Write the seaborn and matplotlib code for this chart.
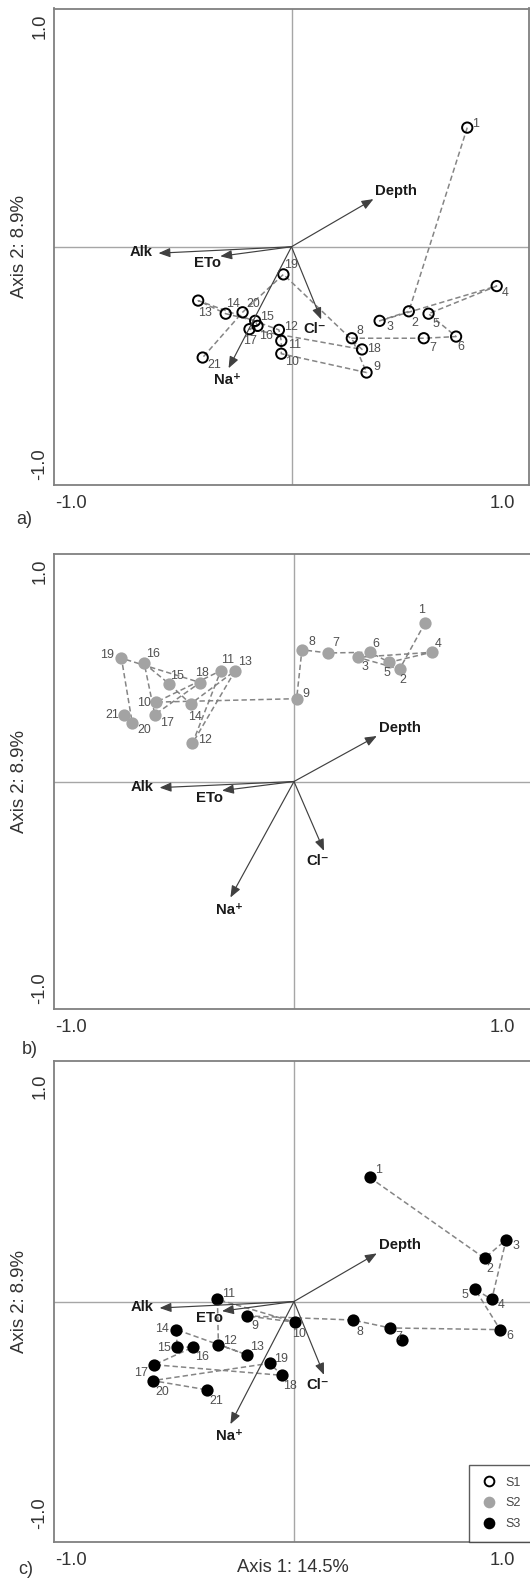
import numpy as np
import pandas as pd
import matplotlib
matplotlib.use('Agg')
import matplotlib.pyplot as plt
import matplotlib.transforms as mtrans
from matplotlib.lines import Line2D
import seaborn as sns

sns.set_style('white')
plt.rcParams['font.family'] = ['Liberation Sans', 'DejaVu Sans']

# ── Data ──────────────────────────────────────────────────────────────────────
samples = [str(i) for i in range(1, 22)]

s1_x = [0.74, 0.494, 0.371, 0.864, 0.577, 0.693, 0.557, 0.254, 0.316, -0.043, -0.043,
        -0.053, -0.393, -0.277, -0.153, -0.143, -0.177, 0.297, -0.034, -0.206, -0.374]
s1_y = [0.50, -0.271, -0.311, -0.165, -0.281, -0.377, -0.384, -0.384, -0.528, -0.449, -0.395,
        -0.349, -0.226, -0.281, -0.311, -0.332, -0.346, -0.431, -0.116, -0.275, -0.465]

s2_x = [0.546, 0.44, 0.265, 0.574, 0.397, 0.316, 0.142, 0.033, 0.011, -0.574, -0.305,
        -0.423, -0.245, -0.431, -0.521, -0.624, -0.580, -0.391, -0.719, -0.674, -0.709]
s2_y = [0.697, 0.494, 0.546, 0.568, 0.524, 0.568, 0.565, 0.579, 0.364, 0.349, 0.487,
        0.168, 0.487, 0.341, 0.430, 0.519, 0.294, 0.435, 0.542, 0.257, 0.294]

s3_x = [0.315, 0.794, 0.884, 0.824, 0.755, 0.859, 0.401, 0.245, -0.197, 0.003, -0.319,
        -0.315, -0.197, -0.490, -0.487, -0.421, -0.582, -0.049, -0.102, -0.589, -0.364]
s3_y = [0.516, 0.18, 0.257, 0.009, 0.05, -0.117, -0.11, -0.077, -0.06, -0.086, 0.009,
        -0.179, -0.221, -0.117, -0.19, -0.19, -0.263, -0.307, -0.257, -0.329, -0.367]
# unlabelled extra S3 point next to sample 7
s3_extra_x = [0.450]
s3_extra_y = [-0.160]

env_names = ['Depth', 'Alk', 'ETo', 'Cl\u207b', 'Na\u207a']
env_x = [0.345, -0.56, -0.30, 0.125, -0.265]
env_y = [0.20, -0.027, -0.04, -0.305, -0.51]

# label offsets in pixels (placement only)
s1_off = [(8, 4), (6, -12), (10, -6), (8, -7), (7, -10), (5, -10), (9, -10), (8, 7), (10, 6),
          (11, -8), (13, -4), (12, 3), (7, -12), (7, 10), (12, 4), (8, -10), (1, -12), (12, 0),
          (8, 9), (11, 8), (12, -7)]
s2_off = [(-3, 13), (3, -11), (7, -10), (6, 8), (-2, -11), (6, 8), (8, 10), (10, 8), (9, 5),
          (-12, -1), (7, 11), (13, 3), (10, 9), (4, -13), (8, 8), (9, 9), (12, -8), (2, 10),
          (-14, 3), (12, -7), (-12, 0)]
s3_off = [(9, 7), (5, -11), (10, -6), (9, -6), (-10, -6), (10, -6), (9, -9), (7, -12), (8, -10),
          (4, -12), (11, 5), (12, 4), (10, 8), (-14, 1), (-13, -1), (9, -10), (-13, -8), (8, -11),
          (12, 4), (10, -11), (10, -11)]
env_off = {'Depth': (2, 8, 'left'), 'Alk': (-6, 1, 'right'), 'ETo': (1, -7, 'right'),
           'Cl\u207b': (-6, -10, 'center'), 'Na\u207a': (-1, -12, 'center')}

W, H = 530, 1580
fig = plt.figure(figsize=(W / 100, H / 100), dpi=100)
fig.patch.set_facecolor('white')

SPINE = '#808080'
LINE = '#858585'
TXT = '#333333'


def add_ax(left, right, top, bottom):
    return fig.add_axes([left / W, 1 - bottom / H, (right - left) / W, (bottom - top) / H])


def shift(artist, dx, dy):
    artist.set_transform(artist.get_transform() +
                         mtrans.ScaledTranslation(dx / 100, dy / 100, fig.dpi_scale_trans))


def draw_panel(ax, box, xs, ys, offs, fc, ec, ylab_off):
    left, right, top, bottom = box
    ax.set_xlim(-1, 1)
    ax.set_ylim(-1, 1)
    ax.axhline(0, color='#a6a6a6', lw=1, zorder=1)
    ax.axvline(0, color='#a6a6a6', lw=1, zorder=1)

    df = pd.DataFrame({'x': xs, 'y': ys, 'lab': samples})
    sns.lineplot(data=df, x='x', y='y', sort=False, estimator=None, ax=ax,
                 color=LINE, lw=1.1, zorder=2)
    ax.lines[-1].set_dashes([3.5, 2])
    sns.scatterplot(data=df, x='x', y='y', ax=ax, s=55, facecolor=fc, edgecolor=ec,
                    linewidth=1.4, zorder=3, legend=False)
    for (x, y, lab), (dx, dy) in zip(zip(xs, ys, samples), offs):
        ax.annotate(lab, (x, y), xytext=(dx, dy), textcoords='offset pixels',
                    ha='center', va='center', fontsize=8.9, color='#505050', zorder=5)

    # environmental vectors
    for name, ex, ey in zip(env_names, env_x, env_y):
        ax.annotate('', xy=(ex, ey), xytext=(0, 0),
                    arrowprops=dict(arrowstyle='-|>,head_length=0.5,head_width=0.2',
                                    color='#404040', lw=0.85, shrinkA=0, shrinkB=0,
                                    mutation_scale=14), zorder=4)
        dx, dy, ha = env_off[name]
        ax.annotate(name, (ex, ey), xytext=(dx, dy), textcoords='offset pixels',
                    ha=ha, va='center', fontsize=10.7, fontweight='bold', color='#1a1a1a',
                    zorder=5)

    for sp in ax.spines.values():
        sp.set_color(SPINE)
        sp.set_linewidth(1.3)
    ax.set_xticks([-1, -0.5, 0, 0.5, 1])
    ax.set_xticklabels(['-1.0', '', '', '', '1.0'])
    ax.set_yticks([-1, -0.5, 0, 0.5, 1])
    ax.set_yticklabels(['-1.0', '', '', '', '1.0'], rotation=90)
    ax.tick_params(axis='both', direction='out', length=3, width=1, color=SPINE,
                   labelsize=13.2, labelcolor=TXT)
    ax.tick_params(axis='x', pad=4)
    ax.tick_params(axis='y', pad=1)
    xl = ax.get_xticklabels()
    xl[0].set_ha('left')
    shift(xl[0], 1, 0)
    xl[-1].set_ha('right')
    shift(xl[-1], 515 - right, 0)
    yl = ax.get_yticklabels()
    yl[0].set_va('bottom')
    shift(yl[0], 0, ylab_off)
    yl[-1].set_va('top')
    shift(yl[-1], 0, -ylab_off)

    ax.set_xlabel('')
    ax.set_ylabel('Axis 2: 8.9%', fontsize=13.4, color=TXT)
    ax.yaxis.label.set_va('center')
    ax.yaxis.set_label_coords((20 - left) / (right - left), 0.5)


box_a = (54, 529, 8.5, 485)
box_b = (54, 534, 554, 1009)
box_c = (54, 534, 1061, 1542)

ax_a = add_ax(*box_a)
draw_panel(ax_a, box_a, s1_x, s1_y, s1_off, 'none', 'black', 5)

ax_b = add_ax(*box_b)
draw_panel(ax_b, box_b, s2_x, s2_y, s2_off, '#a3a3a3', '#a3a3a3', 5)

ax_c = add_ax(*box_c)
draw_panel(ax_c, box_c, s3_x, s3_y, s3_off, 'black', 'black', 13)
sns.scatterplot(x=s3_extra_x, y=s3_extra_y, ax=ax_c, s=55, color='black',
                edgecolor='black', linewidth=1.4, zorder=3, legend=False)

ax_c.set_xlabel('Axis 1: 14.5%', fontsize=13.2, color=TXT)
ax_c.xaxis.label.set_va('center')
ax_c.xaxis.set_label_coords((293 - 54) / (534 - 54), -(1568 - 1542) / (1542 - 1061))

# legend (lower right, cut by the figure edge as in the original)
handles = [
    Line2D([], [], ls='', marker='o', ms=7, mfc='none', mec='black', mew=1.4),
    Line2D([], [], ls='', marker='o', ms=7, mfc='#a3a3a3', mec='#a3a3a3', mew=1.4),
    Line2D([], [], ls='', marker='o', ms=7, mfc='black', mec='black', mew=1.4),
]
leg = ax_c.legend(handles, ['S1', 'S2', 'S3'], loc='lower left',
                  bbox_to_anchor=((469 - 54) / (534 - 54), 0), borderaxespad=0,
                  frameon=True, fancybox=False, edgecolor='#333333', fontsize=9,
                  handlelength=1.3, handletextpad=0.7, labelspacing=0.7, borderpad=0.95)
leg.get_frame().set_linewidth(1.0)
for t in leg.get_texts():
    t.set_color('#444444')

fig.text(24.5 / W, 1 - 520 / H, 'a)', fontsize=13, color=TXT, ha='center', va='center')
fig.text(30 / W, 1 - 1050 / H, 'b)', fontsize=13, color=TXT, ha='center', va='center')
fig.text(26 / W, 1 - 1569 / H, 'c)', fontsize=13, color=TXT, ha='center', va='center')

fig.savefig('out.png', dpi=100, facecolor='white')
plt.close(fig)
